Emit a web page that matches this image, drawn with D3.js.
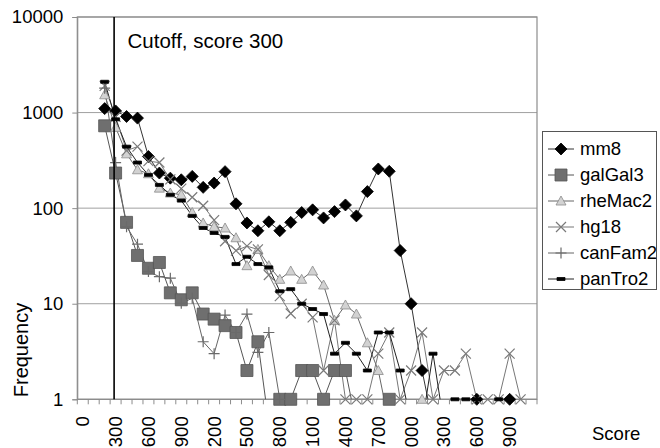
<!DOCTYPE html>
<html>
<head>
<meta charset="utf-8">
<script src="https://cdn.jsdelivr.net/npm/d3@7/dist/d3.min.js"></script>
<style>
  body { margin: 0; background: #fff; }
  svg { display: block; }
  text { font-family: "Liberation Sans", Arial, sans-serif; fill: #000; }
</style>
</head>
<body>
<svg id="chart" width="660" height="448"></svg>
<script>
// Score bins (category axis), labelled every third bin
const scores = d3.range(0, 4200, 100);
const tickScores = d3.range(0, 4000, 300);
const yTicks = [1, 10, 100, 1000, 10000];
const cutoffScore = 300;

// Frequencies per score bin; null = no entry, 0 = empty bin
const mm8 = [null, null, 1100, 1040, 910, 875, 347, 233, 206, 198, 215, 165, 183, 241, 111, 70, 58, 72, 58, 71, 90, 96, 79, 92, 108, 83, 149, 257, 243, 36, 10, 2, 0, 0, 0, 0, 1, 0, 0, 1, 0, 0];
const galGal3 = [null, null, 727, 233, 71, 32, 23.5, 27, 13, 11, 13, 7.8, 6.9, 5.9, 5, 2, 4, 0, 1, 1, 2, 2, 1, 2, 2, 0, 0, 0, 1, 0, 0, 0, 0, 0, 0, 0, 0, 0, 0, 0, 0, 0];
const rheMac2 = [null, null, 1535, 700, 370, 252, 229, 162, 144, 138, 90, 70, 64, 62, 49, 25, 37, 25, 18, 22, 18, 22, 15.7, 6.7, 9.7, 7.8, 3.9, 2, 0, 0, 0, 1, 0, 0, 0, 0, 0, 0, 0, 0, 0, 0];
const hg18 = [null, null, 1900, 900, 400, 440, 310, 300, 200, 160, 130, 106, 75, 45, 36, 40, 37, 20, 12, 7.9, 10, 7.2, 2, 6.7, 1, 1, 1, 3, 5, 1, 2, 5, 1, 2, 2, 3, 1, 1, 1, 3, 1, 0];
const canFam2 = [null, null, 1800, 300, 64, 42, 21.7, 19.2, 18.5, 10.1, 11.4, 4, 3, 7.6, 5, 7.8, 3.1, 5, 1, 0, 0, 0, 0, 0, 0, 0, 0, 0, 0, 0, 0, 0, 0, 0, 0, 0, 0, 0, 0, 0, 0, 0];
const panTro2 = [null, null, 2100, 850, 440, 300, 223, 175, 138, 120, 83, 62, 55, 50, 26, 31, 26, 24, 13.5, 14.2, 10, 8.8, 7.8, 3, 3.9, 3, 2, 5, 5, 2, 0, 0, 3, 0, 1, 1, 1, 0, 1, 1, 0, 0];

const seriesNames = ["mm8", "galGal3", "rheMac2", "hg18", "canFam2", "panTro2"];
const seriesValues = [mm8, galGal3, rheMac2, hg18, canFam2, panTro2];

// Drawing styles per series
const styles = {
  mm8:     { marker: "diamond",  line: "#333", fill: "#000",    stroke: "#000", size: 12 },
  galGal3: { marker: "square",   line: "#555", fill: "#6f6f6f", stroke: "#555", size: 12 },
  rheMac2: { marker: "triangle", line: "#666", fill: "#d2d2d2", stroke: "#8a8a8a", size: 10 },
  hg18:    { marker: "cross",    line: "#777", fill: "none",    stroke: "#7a7a7a", size: 10 },
  canFam2: { marker: "plus",     line: "#666", fill: "none",    stroke: "#6a6a6a", size: 11 },
  panTro2: { marker: "dash",     line: "#222", fill: "#000",    stroke: "#000", size: 8 }
};

const plot = { left: 77.3, right: 537, top: 17, bottom: 399.3 };
const zeroFloor = 0.55; // empty bins fall below the log axis and are clipped

const svg = d3.select("#chart");

const x = d3.scaleBand().domain(scores).range([plot.left, plot.right]).paddingInner(0).paddingOuter(0);
const cx = s => x(s) + x.bandwidth() / 2;
const y = d3.scaleLog().domain([1, 10000]).range([plot.bottom, plot.top]);

// Gridlines
svg.append("g")
  .selectAll("line")
  .data(yTicks.slice(1))
  .join("line")
  .attr("x1", plot.left).attr("x2", plot.right)
  .attr("y1", d => y(d)).attr("y2", d => y(d))
  .attr("stroke", "#a0a0a0").attr("stroke-width", 1);

// Plot frame
svg.append("rect")
  .attr("x", plot.left).attr("y", plot.top)
  .attr("width", plot.right - plot.left).attr("height", plot.bottom - plot.top)
  .attr("fill", "none").attr("stroke", "#8c8c8c").attr("stroke-width", 1.2);

// Y axis
const yAxis = d3.axisLeft(y).tickValues(yTicks).tickFormat(d3.format("d")).tickSize(5).tickPadding(9);
const gy = svg.append("g").attr("transform", `translate(${plot.left},0)`).call(yAxis);
gy.select(".domain").attr("stroke", "#8c8c8c");
gy.selectAll(".tick line").attr("stroke", "#8c8c8c");
gy.selectAll(".tick text").attr("font-size", 18.5).attr("font-family", "Liberation Sans, Arial, sans-serif").attr("fill", "#000");

// X axis: tick marks between bins, labels every 300
const gx = svg.append("g").attr("transform", `translate(0,${plot.bottom})`);
gx.append("line").attr("x1", plot.left).attr("x2", plot.right).attr("stroke", "#8c8c8c").attr("stroke-width", 1.2);
gx.selectAll("line.tk")
  .data(scores.concat([scores[scores.length - 1] + 100]))
  .join("line").attr("class", "tk")
  .attr("x1", (d, i) => plot.left + i * x.bandwidth())
  .attr("x2", (d, i) => plot.left + i * x.bandwidth())
  .attr("y1", 0).attr("y2", 5)
  .attr("stroke", "#8c8c8c");
gx.selectAll("text")
  .data(tickScores)
  .join("text")
  .attr("transform", d => `translate(${cx(d)},${17}) rotate(-90)`)
  .attr("text-anchor", "end")
  .attr("dy", "0.35em")
  .attr("font-size", 18.5)
  .text(d => d);

// Clip region for the series
svg.append("clipPath").attr("id", "plotclip")
  .append("rect")
  .attr("x", plot.left).attr("y", plot.top)
  .attr("width", plot.right - plot.left).attr("height", plot.bottom - plot.top);

const line = d3.line()
  .defined(d => d.v !== null)
  .x(d => cx(d.s))
  .y(d => y(d.v > 0 ? d.v : zeroFloor));

function markerPath(type, s) {
  const h = s / 2;
  switch (type) {
    case "diamond": return `M0,${-h}L${h},0L0,${h}L${-h},0Z`;
    case "square": return `M${-h},${-h}H${h}V${h}H${-h}Z`;
    case "triangle": return `M0,${-h}L${h},${h * 0.8}L${-h},${h * 0.8}Z`;
    case "cross": return `M${-h},${-h}L${h},${h}M${h},${-h}L${-h},${h}`;
    case "plus": return `M${-h},0H${h}M0,${-h}V${h}`;
    case "dash": return `M${-h},-1.5H${h}V1.5H${-h}Z`;
  }
}

const layer = svg.append("g").attr("clip-path", "url(#plotclip)");

seriesNames.forEach((name, k) => {
  const st = styles[name];
  const pts = seriesValues[k].map((v, i) => ({ s: scores[i], v }));
  layer.append("path")
    .datum(pts)
    .attr("d", line)
    .attr("fill", "none")
    .attr("stroke", st.line)
    .attr("stroke-width", 1);
});

const markLayer = svg.append("g");
seriesNames.forEach((name, k) => {
  const st = styles[name];
  const pts = seriesValues[k].map((v, i) => ({ s: scores[i], v })).filter(d => d.v > 0);
  markLayer.append("g")
    .selectAll("path")
    .data(pts)
    .join("path")
    .attr("transform", d => `translate(${cx(d.s)},${y(d.v)})`)
    .attr("d", markerPath(st.marker, st.size))
    .attr("fill", st.fill)
    .attr("stroke", st.stroke)
    .attr("stroke-width", st.marker === "cross" || st.marker === "plus" ? 1.2 : 0.8);
});

// Cutoff marker line and note
svg.append("line")
  .attr("x1", cx(cutoffScore) - 1.5).attr("x2", cx(cutoffScore) - 1.5)
  .attr("y1", plot.top).attr("y2", plot.bottom)
  .attr("stroke", "#000").attr("stroke-width", 1.6);
svg.append("text")
  .attr("x", 127.5).attr("y", 48)
  .attr("font-size", 20.5)
  .text("Cutoff, score 300");

// Axis titles
svg.append("text")
  .attr("transform", "translate(28,350) rotate(-90)")
  .attr("text-anchor", "middle")
  .attr("font-size", 20)
  .text("Frequency");
svg.append("text")
  .attr("x", 592).attr("y", 440)
  .attr("font-size", 18.5)
  .text("Score");

// Legend
const legend = svg.append("g");
legend.append("rect")
  .attr("x", 542.5).attr("y", 131.5).attr("width", 114).attr("height", 158)
  .attr("fill", "#fff").attr("stroke", "#555").attr("stroke-width", 1);
const rowY = d3.scalePoint().domain(seriesNames).range([149, 279]);
seriesNames.forEach(name => {
  const st = styles[name];
  const g = legend.append("g").attr("transform", `translate(0,${rowY(name)})`);
  g.append("line").attr("x1", 548).attr("x2", 574).attr("stroke", st.line).attr("stroke-width", 1);
  g.append("path").attr("transform", "translate(561,0)")
    .attr("d", markerPath(st.marker, st.size))
    .attr("fill", st.fill).attr("stroke", st.stroke)
    .attr("stroke-width", st.marker === "cross" || st.marker === "plus" ? 1.2 : 0.8);
  g.append("text").attr("x", 580).attr("dy", "0.35em").attr("font-size", 18.5).text(name);
});
</script>
</body>
</html>
